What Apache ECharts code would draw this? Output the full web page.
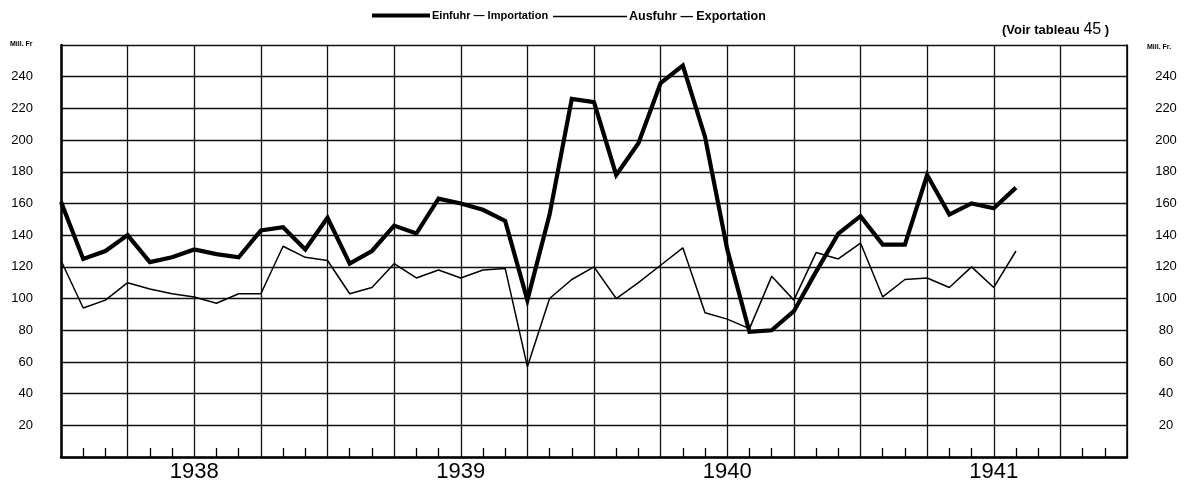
<!DOCTYPE html>
<html>
<head>
<meta charset="utf-8">
<script src="https://cdn.jsdelivr.net/npm/echarts@6/dist/echarts.min.js"></script>
<style>
html,body{margin:0;padding:0;background:#fff;}
#chart{width:1189px;height:485px;}
</style>
</head>
<body>
<div id="chart"></div>
<script>
// Months from January 1938 (index 0) to August 1941 (index 43)
const years = ['1938', '1939', '1940', '1941'];
const einfuhr = [161, 125, 130, 140, 123, 126, 131, 128, 126, 143, 145, 131,
                 151, 122, 130, 146, 141, 163, 160, 156, 149, 99, 153, 226,
                 224, 178, 198, 236, 247, 202, 131, 79, 80, 92, 117, 141,
                 152, 134, 134, 178, 153, 160, 157, 170];
const ausfuhr = [124, 94, 99, 110, 106, 103, 101, 97, 103, 103, 133, 126,
                 124, 103, 107, 122, 113, 118, 113, 118, 119, 57, 100, 112,
                 120, 100, 110, 121, 132, 91, 87, 81, 114, 99, 129, 125,
                 135, 101, 112, 113, 107, 120, 107, 130];
const yTicks = [20, 40, 60, 80, 100, 120, 140, 160, 180, 200, 220, 240];
const seriesNames = ['Einfuhr — Importation', 'Ausfuhr — Exportation'];

const FONT = 'Liberation Sans, Arial, sans-serif';
const toPairs = arr => arr.map((v, i) => [i, v]);

const chart = echarts.init(document.getElementById('chart'));
const yLabel = v => (yTicks.indexOf(v) >= 0 ? String(v) : '');

chart.setOption({
  backgroundColor: '#fff',
  animation: false,
  legend: [
    {
      top: 5,
      left: 367,
      itemWidth: 58,
      itemHeight: 4,
      icon: 'rect',
      textStyle: { fontFamily: FONT, fontSize: 11, color: '#000', fontWeight: 'bold', padding: [0, 0, 0, -3] },
      data: [{ name: seriesNames[0], icon: 'rect' }]
    },
    {
      top: 5,
      left: 548,
      itemWidth: 74,
      itemHeight: 1.5,
      icon: 'rect',
      textStyle: { fontFamily: FONT, fontSize: 12.5, color: '#000', fontWeight: 'bold', padding: [0, 0, 0, -3] },
      data: [{ name: seriesNames[1], icon: 'rect' }]
    }
  ],
  grid: { left: 61, right: 62, top: 45, bottom: 28, containLabel: false },
  xAxis: {
    type: 'value',
    min: 0,
    max: 48,
    interval: 3,
    axisLine: { show: true, lineStyle: { color: '#000', width: 2.5 } },
    axisTick: { show: false, inside: true },
    minorTick: { show: true, splitNumber: 3, length: 9, lineStyle: { color: '#000', width: 1.3 } },
    minorSplitLine: { show: false },
    splitLine: { show: true, lineStyle: { color: '#111', width: 1.3 } },
    axisLabel: {
      margin: 4,
      fontFamily: FONT,
      fontSize: 22,
      color: '#000',
      formatter: v => (v % 12 === 6 ? years[(v - 6) / 12] : '')
    }
  },
  yAxis: [
    {
      type: 'value',
      min: 0,
      max: 260,
      interval: 20,
      position: 'left',
      axisLine: { show: true, lineStyle: { color: '#000', width: 2.5 } },
      axisTick: { show: false },
      splitLine: { show: true, lineStyle: { color: '#111', width: 1.3 } },
      axisLabel: { margin: 28, fontFamily: FONT, fontSize: 13, color: '#000', formatter: yLabel }
    },
    {
      type: 'value',
      min: 0,
      max: 260,
      interval: 20,
      position: 'right',
      axisLine: { show: true, lineStyle: { color: '#000', width: 1.5 } },
      axisTick: { show: false },
      splitLine: { show: false },
      axisLabel: { margin: 39, align: 'center', fontFamily: FONT, fontSize: 13, color: '#000', formatter: yLabel }
    }
  ],
  graphic: [
    { type: 'text', left: 10, top: 41, style: { text: 'Mill. Fr', font: 'bold 7px ' + FONT, fill: '#000' } },
    { type: 'text', left: 1147, top: 44, style: { text: 'Mill. Fr.', font: 'bold 7px ' + FONT, fill: '#000' } },
    {
      type: 'text', left: 1002, top: 22,
      style: {
        text: '{a|(Voir tableau }{b|45}{a| )}',
        rich: {
          a: { fontFamily: FONT, fontSize: 13, fontWeight: 'bold', fill: '#000' },
          b: { fontFamily: FONT, fontSize: 16, fill: '#000' }
        }
      }
    }
  ],
  series: [
    {
      name: seriesNames[0],
      type: 'line',
      symbol: 'none',
      data: toPairs(einfuhr),
      lineStyle: { color: '#000', width: 4.2, join: 'miter' },
      itemStyle: { color: '#000' },
      z: 4
    },
    {
      name: seriesNames[1],
      type: 'line',
      symbol: 'none',
      data: toPairs(ausfuhr),
      lineStyle: { color: '#000', width: 1.5 },
      itemStyle: { color: '#000' },
      z: 3
    }
  ]
});
</script>
</body>
</html>
